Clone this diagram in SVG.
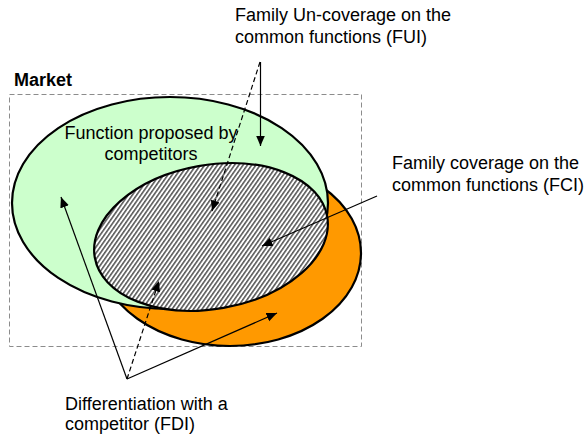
<svg xmlns="http://www.w3.org/2000/svg" width="587" height="436" viewBox="0 0 587 436">
  <style>
    text { font-family: "Liberation Sans", Arial, sans-serif; font-size: 18px; fill: #000; }
    .bold { font-weight: bold; }
    .shape { stroke: #000; stroke-width: 2.2; }
    .conn { stroke: #000; stroke-width: 1.2; fill: none; }
    .dash { stroke-dasharray: 5 3; }
    .arrow { marker-end: url(#ah); }
  </style>
  <defs>
    <marker id="ah" markerUnits="userSpaceOnUse" markerWidth="11" markerHeight="10" refX="10.5" refY="4.5" orient="auto">
      <path d="M0,0 L10.5,4.5 L0,9 z" fill="#000"/>
    </marker>
    <pattern id="hatch" patternUnits="userSpaceOnUse" width="3.5" height="6" patternTransform="rotate(45)">
      <rect width="3.5" height="6" fill="#fff"/>
      <rect width="1.6" height="6" fill="#5a5a5a"/>
    </pattern>
  </defs>

  <g id="market">
    <rect x="9.5" y="94.5" width="352" height="252" fill="none" stroke="#8c8c8c" stroke-width="1" stroke-dasharray="5 3"/>
    <text class="bold" x="14" y="86">Market</text>
  </g>

  <g id="family">
    <ellipse class="shape" cx="230" cy="253" rx="131" ry="93" fill="#FF9900"/>
  </g>

  <g id="competitors">
    <ellipse class="shape" cx="170" cy="203" rx="158" ry="106" fill="#CCFFCC"/>
  </g>

  <g id="common">
    <ellipse class="shape" cx="211" cy="237" rx="118" ry="72" transform="rotate(-10 211 237)" fill="url(#hatch)"/>
  </g>

  <g id="competitors-label">
    <text x="151" y="139" text-anchor="middle">Function proposed by</text>
    <text x="151" y="160" text-anchor="middle">competitors</text>
  </g>

  <g id="connectors">
    <line class="conn arrow" x1="260.5" y1="62" x2="260.5" y2="146"/>
    <line class="conn dash arrow" x1="260" y1="62" x2="212" y2="211"/>
    <line class="conn arrow" x1="377" y1="196" x2="262" y2="246"/>
    <line class="conn arrow" x1="127" y1="379" x2="61" y2="197"/>
    <line class="conn dash arrow" x1="127" y1="379" x2="159" y2="281"/>
    <line class="conn arrow" x1="127" y1="379" x2="277" y2="313"/>
  </g>

  <g id="label-fui">
    <text x="235" y="21">Family Un-coverage on the</text>
    <text x="235" y="43">common functions (FUI)</text>
  </g>

  <g id="label-fci">
    <text x="392" y="169">Family coverage on the</text>
    <text x="392" y="191">common functions (FCI)</text>
  </g>

  <g id="label-fdi">
    <text x="65" y="410">Differentiation with a</text>
    <text x="65" y="430">competitor (FDI)</text>
  </g>
</svg>
